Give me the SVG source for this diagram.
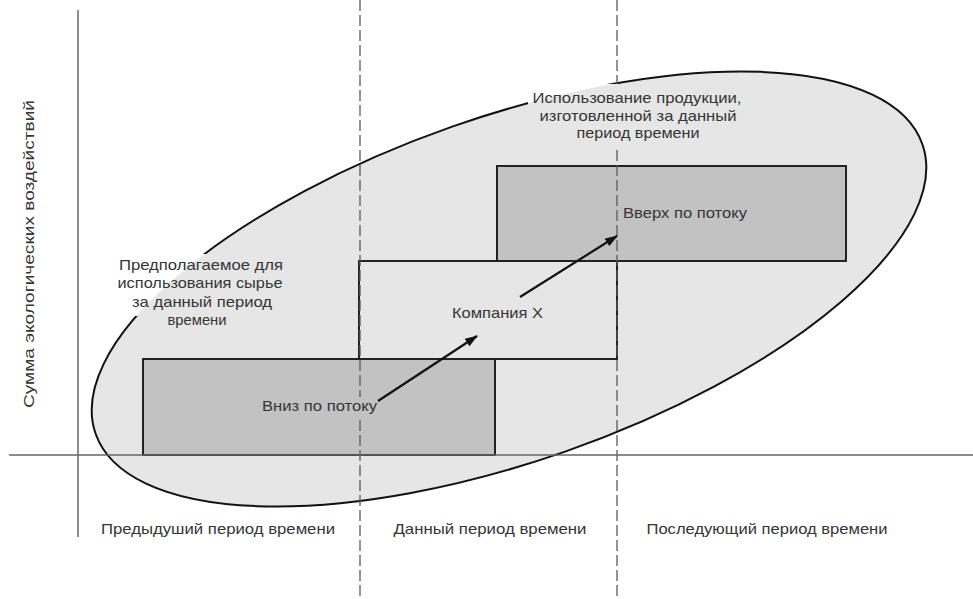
<svg xmlns="http://www.w3.org/2000/svg" width="973" height="599" viewBox="0 0 973 599">
<defs>
<marker id="ah" viewBox="0 0 13 9" refX="12" refY="4.5" markerWidth="13" markerHeight="9" markerUnits="userSpaceOnUse" orient="auto">
<path d="M0,0 L13,4.5 L0,9 z" fill="#111"/>
</marker>
<mask id="hide" maskUnits="userSpaceOnUse" x="0" y="0" width="973" height="599">
<rect width="973" height="599" fill="#fff"/>
<rect x="528" y="84" width="95" height="62" fill="#000"/>
<rect x="610" y="89" width="136" height="57" fill="#000"/>
<rect x="118" y="254" width="170" height="62" fill="#000"/>
<rect x="260" y="397" width="119" height="20" fill="#000"/>
</mask>
<style>
.t{font-family:"Liberation Sans",Arial,sans-serif;font-size:15px;fill:#353535;}
.m{text-anchor:middle;}
.dark{fill:#c2c2c2;stroke:#222;stroke-width:2;}
.light{fill:#e6e6e6;stroke:#222;stroke-width:2;}
.dash{stroke:#5a5a5a;stroke-width:1.3;stroke-dasharray:11 4;fill:none;}
.axis{stroke:#666;stroke-width:1.5;fill:none;}
.arr{stroke:#111;stroke-width:2.2;fill:none;marker-end:url(#ah);}
</style>
</defs>
<rect width="973" height="599" fill="#fff"/>
<g id="scope">
<ellipse cx="509" cy="289" rx="438" ry="172" transform="rotate(-19.3 509 289)" fill="#e6e6e6"/>
<g mask="url(#hide)">
<ellipse cx="509" cy="289" rx="438" ry="172" transform="rotate(-19.3 509 289)" fill="none" stroke="#111" stroke-width="2"/>
</g>
</g>
<g id="downstream">
<rect class="dark" x="143" y="359" width="352" height="96"/>
</g>
<g id="company">
<rect class="light" x="359" y="261" width="258" height="98"/>
</g>
<g id="upstream">
<rect class="dark" x="497" y="166" width="349" height="95"/>
</g>
<g id="gridlines">
<g mask="url(#hide)">
<line class="dash" x1="360" y1="0" x2="360" y2="599"/>
<line class="dash" x1="617" y1="0" x2="617" y2="599"/>
</g>
<line class="axis" x1="78" y1="10" x2="78" y2="537"/>
<line class="axis" x1="9" y1="455" x2="973" y2="455"/>
</g>
<g id="label-output">
<text class="t m" x="637" y="103" textLength="209" lengthAdjust="spacingAndGlyphs">Использование продукции,</text>
<text class="t m" x="638" y="120.5" textLength="197" lengthAdjust="spacingAndGlyphs">изготовленной за данный</text>
<text class="t m" x="638" y="138" textLength="123" lengthAdjust="spacingAndGlyphs">период времени</text>
</g>
<g id="label-input">
<text class="t m" x="201" y="270" textLength="164" lengthAdjust="spacingAndGlyphs">Предполагаемое для</text>
<text class="t m" x="200" y="288" textLength="165" lengthAdjust="spacingAndGlyphs">использования сырье</text>
<text class="t m" x="202" y="307" textLength="140" lengthAdjust="spacingAndGlyphs">за данный период</text>
<text class="t m" x="197" y="325" textLength="59" lengthAdjust="spacingAndGlyphs">времени</text>
</g>
<g id="label-nodes">
<text class="t" x="262" y="411" textLength="115" lengthAdjust="spacingAndGlyphs">Вниз по потоку</text>
<text class="t" x="452" y="318" textLength="91" lengthAdjust="spacingAndGlyphs">Компания X</text>
<text class="t" x="623" y="218" textLength="124" lengthAdjust="spacingAndGlyphs">Вверх по потоку</text>
</g>
<g id="axis-labels">
<text class="t m" transform="translate(34 254) rotate(-90)" x="0" y="0" textLength="308" lengthAdjust="spacingAndGlyphs">Сумма экологических воздействий</text>
<text class="t m" x="218" y="534" textLength="234" lengthAdjust="spacingAndGlyphs">Предыдуший период времени</text>
<text class="t m" x="490" y="534" textLength="193" lengthAdjust="spacingAndGlyphs">Данный период времени</text>
<text class="t m" x="767" y="534" textLength="241" lengthAdjust="spacingAndGlyphs">Последующий период времени</text>
</g>
<g id="connectors">
<line class="arr" x1="378" y1="401" x2="477" y2="336"/>
<line class="arr" x1="520" y1="297" x2="617" y2="236"/>
</g>
</svg>
